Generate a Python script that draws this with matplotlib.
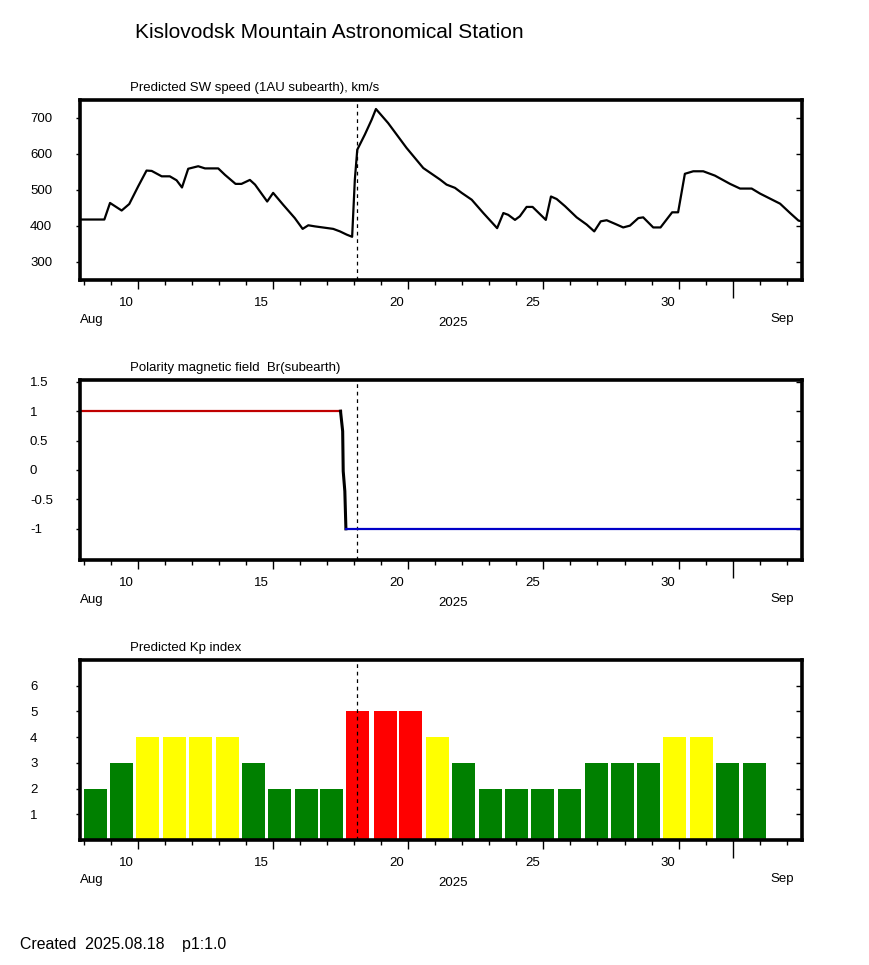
import matplotlib
matplotlib.use('Agg')
import matplotlib.pyplot as plt
import matplotlib.transforms as mtransforms

plt.rcParams['font.family'] = ['Liberation Sans', 'DejaVu Sans']

# ось X - день августа (1 сентября = 32)
x_min, x_max = 7.87, 34.56
now_day = 18.1

# Скорость солнечного ветра, км/с
sw_days = [7.87, 8.77, 8.98, 9.41, 9.69, 10.02, 10.33, 10.52, 10.89, 11.19, 11.44, 11.64,
           11.87, 12.24, 12.49, 12.98, 13.23, 13.62, 13.84, 14.15, 14.34, 14.79, 15.01,
           15.38, 15.81, 16.10, 16.31, 16.55, 17.23, 17.48, 17.73, 17.93, 18.03, 18.12,
           18.40, 18.65, 18.81, 19.26, 19.94, 20.56, 21.18, 21.42, 21.73, 21.98, 22.35,
           22.78, 23.29, 23.52, 23.70, 23.95, 24.13, 24.38, 24.60, 25.09, 25.28, 25.49,
           25.80, 26.23, 26.60, 26.88, 27.12, 27.34, 27.65, 27.95, 28.20, 28.51, 28.69,
           29.06, 29.33, 29.76, 29.98, 30.23, 30.54, 30.91, 31.34, 31.90, 32.27, 32.70,
           33.01, 33.75, 34.12, 34.43, 34.56]
sw_speed = [418, 418, 464, 443, 461, 510, 554, 553, 538, 538, 527, 507,
            559, 566, 560, 560, 542, 517, 517, 528, 515, 468, 492,
            459, 422, 392, 402, 399, 392, 385, 376, 370, 529, 612,
            654, 695, 725, 686, 617, 561, 529, 515, 506, 492, 473,
            436, 394, 436, 431, 417, 427, 453, 453, 417, 482, 475,
            455, 424, 404, 385, 413, 416, 406, 396, 401, 422, 424,
            396, 396, 438, 438, 545, 552, 552, 540, 517, 504, 504,
            490, 462, 436, 415, 413]

# Полярность поля Br
pol_pos_days = [7.87, 17.50]
pol_pos_vals = [1, 1]
pol_tr_days = [17.50, 17.58, 17.60, 17.66, 17.70]
pol_tr_vals = [1, 0.66, -0.02, -0.36, -1]
pol_neg_days = [17.70, 34.56]
pol_neg_vals = [-1, -1]

# Индекс Kp: левый край столбца (в днях) и значение
kp_start = [8.02, 8.98, 9.94, 10.93, 11.89, 12.89, 13.85, 14.81, 15.80, 16.76,
            17.72, 18.72, 19.68, 20.67, 21.63, 22.63, 23.59, 24.55, 25.55, 26.53,
            27.50, 28.46, 29.42, 30.42, 31.38, 32.37]
kp_vals = [2, 3, 4, 4, 4, 4, 3, 2, 2, 2, 5, 5, 5, 4, 3, 2, 2, 2, 2, 3, 3, 3, 4, 4, 3, 3]

W, H = 870, 965
fig = plt.figure(figsize=(W / 100, H / 100), dpi=100)
fs = 9.5


def make_ax(top_px, ylim, yticks, ylabels, title):
    ax = fig.add_axes([80 / W, 1 - (top_px + 180) / H, 722 / W, 180 / H])
    ax.set_xlim(x_min, x_max)
    ax.set_ylim(*ylim)
    for sp in ax.spines.values():
        sp.set_linewidth(2.6)
    majors = [10, 15, 20, 25, 30, 32]
    ax.set_xticks(majors)
    ax.set_xticklabels(['10', '15', '20', '25', '30', ''], fontsize=fs)
    ax.set_xticks([d for d in range(8, 35) if d not in majors], minor=True)
    ax.tick_params(axis='x', which='major', direction='out', length=6.5, width=1, pad=5.5)
    ax.tick_params(axis='x', which='minor', direction='out', length=3.5, width=1)
    ax.xaxis.get_major_ticks()[5].tick1line.set_markersize(13)
    off = mtransforms.ScaledTranslation(-11 / 100, 0, fig.dpi_scale_trans)
    for lab in ax.get_xticklabels():
        lab.set_transform(lab.get_transform() + off)
    ax.set_yticks(yticks)
    ax.set_yticklabels(ylabels, fontsize=fs, ha='left')
    ax.tick_params(axis='y', direction='out', length=3, width=1, pad=33)
    sec = ax.secondary_yaxis('right')
    sec.set_yticks(yticks)
    sec.tick_params(axis='y', direction='in', length=4, width=1, labelright=False)
    sec.spines['right'].set_visible(False)
    ax.text(0.069, 1 + 12 / 180, title, transform=ax.transAxes, fontsize=fs,
            ha='left', va='center')
    ax.text(0, -40 / 180, 'Aug', transform=ax.transAxes, fontsize=fs, ha='left', va='center')
    ax.text(0.517, -43 / 180, '2025', transform=ax.transAxes, fontsize=fs, ha='center', va='center')
    ax.text(0.972, -39 / 180, 'Sep', transform=ax.transAxes, fontsize=fs, ha='center', va='center')
    ax.axvline(now_day, color='black', lw=0.9, ls=(0, (3, 3)))
    return ax


ax1 = make_ax(100, (250, 750), [300, 400, 500, 600, 700],
              ['300', '400', '500', '600', '700'],
              'Predicted SW speed (1AU subearth), km/s')
ax1.plot(sw_days, sw_speed, color='black', lw=1.6)

ax2 = make_ax(380, (-1.53, 1.53), [-1, -0.5, 0, 0.5, 1, 1.5],
              ['-1', '-0.5', '0', '0.5', '1', '1.5'],
              'Polarity magnetic field  Br(subearth)')
ax2.plot(pol_pos_days, pol_pos_vals, color='#C00000', lw=1.6)
ax2.plot(pol_tr_days, pol_tr_vals, color='black', lw=2.2)
ax2.plot(pol_neg_days, pol_neg_vals, color='#0000C8', lw=1.6)

ax3 = make_ax(660, (0, 7), [1, 2, 3, 4, 5, 6],
              ['1', '2', '3', '4', '5', '6'],
              'Predicted Kp index')
kp_colors = ['#FF0000' if v >= 5 else '#FFFF00' if v == 4 else '#008000' for v in kp_vals]
ax3.bar(kp_start, kp_vals, width=0.85, align='edge',
        color=kp_colors, edgecolor='none', zorder=1)

fig.text(135 / W, 1 - 32 / H, 'Kislovodsk Mountain Astronomical Station',
         fontsize=15, ha='left', va='center')
fig.text(20 / W, 1 - 944 / H, 'Created  2025.08.18    p1:1.0',
         fontsize=11.4, ha='left', va='center')

fig.savefig('out.png', dpi=100)
